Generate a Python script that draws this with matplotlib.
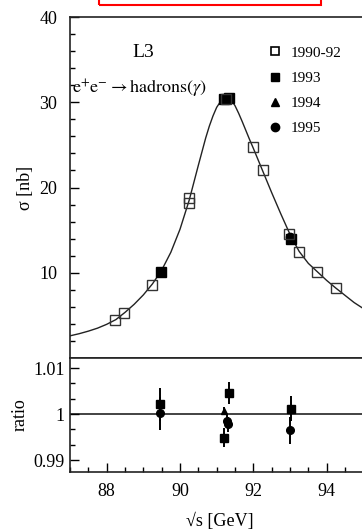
import matplotlib
matplotlib.use("Agg")
import matplotlib.pyplot as plt
from matplotlib.patches import Rectangle
from matplotlib.ticker import MultipleLocator, FixedLocator

plt.rcParams['font.family'] = ['Liberation Serif', 'DejaVu Serif']
plt.rcParams['mathtext.fontset'] = 'stix'

# hadronic cross section vs sqrt(s)
x_9092 = [88.23, 88.48, 89.23, 90.24, 90.24, 91.25, 91.99, 92.25, 92.98, 93.25, 93.74, 94.26]
sig_9092 = [4.46, 5.32, 8.6, 18.2, 18.8, 30.4, 24.7, 22.1, 14.55, 12.4, 10.13, 8.18]
x_93 = [89.47, 91.2, 91.33, 93.04]
sig_93 = [10.13, 30.4, 30.5, 13.97]
x_94 = [91.22]
sig_94 = [30.45]
x_95 = [89.47, 91.3, 93.0]
sig_95 = [10.1, 30.4, 14.2]

# fitted lineshape
fit_x = [86.5, 87.0, 87.25, 87.5, 87.75, 88.0, 88.25, 88.5, 88.75, 89.0, 89.25, 89.5,
         89.75, 90.0, 90.25, 90.5, 90.6, 90.7, 90.8, 90.9, 91.0, 91.1, 91.2, 91.3,
         91.4, 91.5, 91.6, 91.7, 91.8, 91.9, 92.0, 92.25, 92.5, 92.75, 93.0, 93.25,
         93.5, 93.75, 94.0, 94.25, 94.5, 94.75, 95.0, 95.5, 96.0]
fit_sig = [2.3, 2.6, 2.85, 3.15, 3.5, 3.95, 4.5, 5.35, 6.3, 7.4, 8.7, 10.3,
           12.4, 15.1, 18.5, 22.6, 24.2, 25.8, 27.2, 28.4, 29.4, 30.05, 30.4, 30.5,
           30.25, 29.6, 28.7, 27.7, 26.65, 25.6, 24.6, 22.0, 19.4, 16.9, 14.5, 12.5,
           11.1, 10.1, 9.1, 8.2, 7.35, 6.5, 5.8, 4.9, 4.2]

# ratio data / fit
rx_93 = [89.45, 91.19, 91.33, 93.04]
r_93 = [1.0021, 0.9949, 1.0045, 1.0012]
re_93 = [0.0035, 0.0020, 0.0024, 0.0028]
rx_94 = [91.21]
r_94 = [1.0007]
re_94 = [0.0008]
rx_95 = [89.46, 91.29, 91.31, 92.99]
r_95 = [1.0002, 0.9985, 0.9978, 0.9965]
re_95 = [0.0036, 0.0016, 0.0016, 0.0029]

W, H = 362, 529
fig = plt.figure(figsize=(W / 100, H / 100), dpi=100)
left = 70 / W
width = 330 / W
ax = fig.add_axes([left, 1 - 358 / H, width, 341 / H])
ax2 = fig.add_axes([left, 1 - 472 / H, width, 114 / H])

dark = '#222222'
ax.plot(fit_x, fit_sig, color=dark, lw=1.0, zorder=2)
ax.plot(x_95, sig_95, 'o', color='black', ms=6, zorder=3)
ax.plot(x_94, sig_94, '^', color='black', ms=6, zorder=3)
ax.plot(x_93, sig_93, 's', color='black', ms=6.5, zorder=4)
ax.plot(x_9092, sig_9092, 's', mfc='none', mec='#333333', mew=1.0, ms=6.5, zorder=5)

ax.set_xlim(87, 96)
ax.set_ylim(0, 40)
ax.yaxis.set_major_locator(FixedLocator([10, 20, 30, 40]))
ax.yaxis.set_minor_locator(MultipleLocator(2))
ax.tick_params(axis='y', which='major', direction='in', length=6.5, width=1.0, labelsize=13, pad=9)
ax.tick_params(axis='y', which='minor', direction='in', length=3.5, width=1.0)
ax.tick_params(axis='x', which='both', bottom=False, labelbottom=False)
ax.set_ylabel('σ [nb]', fontsize=13, labelpad=4)
for s in ax.spines.values():
    s.set_linewidth(1.2)
    s.set_color(dark)

ax.text((132 - 70) / 330, 0.895, 'L3', transform=ax.transAxes, fontsize=14, ha='left', va='center')
ax.text(0.005, 0.79, r'$\mathrm{e^{+}e^{-}\rightarrow hadrons(}\gamma\mathrm{)}$',
        transform=ax.transAxes, fontsize=13, ha='left', va='center')

# legend markers
h1, = ax2.plot([], [], 's', mfc='none', mec='black', mew=1.2, ms=6)
h2, = ax2.plot([], [], 's', color='black', ms=5.5)
h3, = ax2.plot([], [], '^', color='black', ms=5.5)
h4, = ax2.plot([], [], 'o', color='black', ms=6)
leg = ax.legend([h1, h2, h3, h4], ['1990-92', '1993', '1994', '1995'],
                loc='upper left', bbox_to_anchor=((269 - 70) / 330, 1 - 29 / 341),
                frameon=False, fontsize=11, handlelength=0.8, handletextpad=0.6,
                labelspacing=0.75, borderpad=0, borderaxespad=0)

# ratio panel
ax2.axhline(1.0, color=dark, lw=1.2, zorder=1)
ax2.errorbar(rx_95, r_95, yerr=re_95, fmt='o', color='black', ms=5.5, elinewidth=1.4, capsize=0, zorder=3)
ax2.errorbar(rx_94, r_94, yerr=re_94, fmt='^', color='black', ms=5, elinewidth=1.4, capsize=0, zorder=3)
ax2.errorbar(rx_93, r_93, yerr=re_93, fmt='s', color='black', ms=6, elinewidth=1.4, capsize=0, zorder=4)

ax2.set_xlim(87, 96)
ax2.set_ylim(0.9874, 1.0122)
ax2.yaxis.set_major_locator(FixedLocator([0.99, 1.0, 1.01]))
ax2.set_yticklabels(['0.99', '1', '1.01'])
ax2.yaxis.set_minor_locator(MultipleLocator(0.01 / 3))
ax2.xaxis.set_major_locator(FixedLocator([88, 90, 92, 94]))
ax2.xaxis.set_minor_locator(MultipleLocator(0.5))
ax2.tick_params(axis='both', which='major', direction='in', length=6.5, width=1.0, labelsize=13)
ax2.tick_params(axis='both', which='minor', direction='in', length=3.5, width=1.0)
ax2.tick_params(axis='y', which='major', pad=4)
ax2.tick_params(axis='x', which='major', pad=8)
for s in ax2.spines.values():
    s.set_linewidth(1.2)
    s.set_color(dark)
ax2.set_ylabel('ratio', fontsize=13, labelpad=3)
ax2.set_xlabel('√s [GeV]', fontsize=13)
ax2.xaxis.set_label_coords((220 - 70) / 330, -0.36)

# red frame at the top edge
fig.patches.append(Rectangle((99 / W, 1 - 4.5 / H), (321 - 99) / W, 0.05,
                             transform=fig.transFigure, fill=False,
                             edgecolor='red', lw=1.5))

fig.savefig('out.png', dpi=100)
